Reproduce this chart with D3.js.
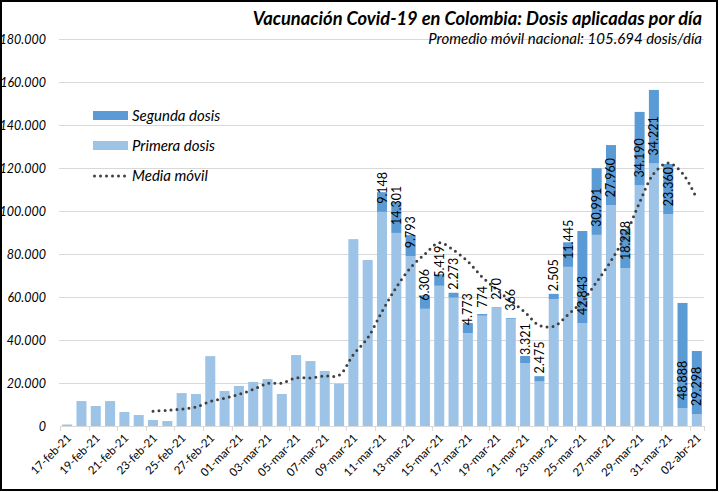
<!DOCTYPE html>
<html>
<head>
<meta charset="utf-8">
<script src="https://cdn.jsdelivr.net/npm/d3@7"></script>
<style>
  body { margin: 0; background: #fff; }
  svg { display: block; font-family: Lato, "Open Sans", sans-serif; }
</style>
</head>
<body>
<div id="chart"></div>
<script>
const fechas = [
  '17-feb-21', '18-feb-21', '19-feb-21', '20-feb-21', '21-feb-21', '22-feb-21', '23-feb-21',
  '24-feb-21', '25-feb-21', '26-feb-21', '27-feb-21', '28-feb-21',
  '01-mar-21', '02-mar-21', '03-mar-21', '04-mar-21', '05-mar-21', '06-mar-21', '07-mar-21',
  '08-mar-21', '09-mar-21', '10-mar-21', '11-mar-21', '12-mar-21', '13-mar-21', '14-mar-21',
  '15-mar-21', '16-mar-21', '17-mar-21', '18-mar-21', '19-mar-21', '20-mar-21', '21-mar-21',
  '22-mar-21', '23-mar-21', '24-mar-21', '25-mar-21', '26-mar-21', '27-mar-21', '28-mar-21',
  '29-mar-21', '30-mar-21', '31-mar-21', '01-abr-21', '02-abr-21'
]

const primeraDosis = [
  700, 11600, 9300, 11600, 6500, 5100, 2800, 2300, 15300, 14900, 32500, 16300,
  18600, 20500, 21800, 14900, 33000, 30200, 25600, 19700, 86900, 77200, 99600, 89800,
  79000, 54500, 65200, 59700, 43150, 51300, 55000, 49850, 29250, 20700, 58950, 74000,
  47850, 88900, 102700, 73450, 111900, 122100, 98500, 8350, 5580
]

const segundaDosis = [
  0, 0, 0, 0, 0, 0, 0, 0, 0, 0, 0, 0,
  0, 0, 0, 0, 0, 0, 0, 0, 0, 0, 9148, 14301,
  9793, 6306, 5419, 2273, 4773, 774, 270, 366, 3321, 2475, 2505, 11445,
  42843, 30991, 27960, 18228, 34190, 34221, 23360, 48888, 29298
]

const mediaMovil = [
  null, null, null, null, null, null, 6900, 7300, 7900, 8800, 11400, 12900,
  14700, 17000, 19800, 20000, 22400, 22300, 23300, 23600, 33200, 41000, 53200, 64500,
  73600, 80000, 85200, 81800, 76500, 69300, 63500, 58200, 52800, 46800, 46400, 51800,
  58000, 67000, 76800, 88500, 104000, 117500, 122300, 117500, 105694
]

const yTicks = [0, 20000, 40000, 60000, 80000, 100000, 120000, 140000, 160000, 180000]

const titulo = 'Vacunación Covid-19 en Colombia: Dosis aplicadas por día'
const subtitulo = 'Promedio móvil nacional: 105.694 dosis/día'

const colorPrimera = '#9dc3e6'
const colorSegunda = '#5b9bd5'

const width = 719
const height = 492
const plot = { left: 60, right: 704, top: 39, bottom: 426 }

const locale = d3.formatLocale({ decimal: ',', thousands: '.', grouping: [3], currency: ['$', ''] })
const fmt = locale.format(',d')

const dataset = fechas.map((f, i) => ({
  fecha: f,
  primera: primeraDosis[i],
  segunda: segundaDosis[i],
  media: mediaMovil[i]
}))

const svg = d3.select('#chart')
  .append('svg')
  .attr('width', width)
  .attr('height', height)

svg.append('rect')
  .attr('width', width)
  .attr('height', height)
  .attr('fill', '#fff')

const xScale = d3.scaleBand()
  .domain(fechas)
  .range([plot.left, plot.right])
  .paddingInner(0.3)
  .paddingOuter(0.15)

const yScale = d3.scaleLinear()
  .domain([0, 180000])
  .range([plot.bottom, plot.top])

const cx = d => xScale(d.fecha) + xScale.bandwidth() / 2

// gridlines
svg.append('g')
  .selectAll('line')
  .data(yTicks.filter(t => t > 0))
  .join('line')
  .attr('x1', plot.left - 1)
  .attr('x2', plot.right)
  .attr('y1', d => Math.round(yScale(d)) + 0.5)
  .attr('y2', d => Math.round(yScale(d)) + 0.5)
  .attr('stroke', '#d9d9d9')

// y axis labels
const yAxis = d3.axisLeft(yScale)
  .tickValues(yTicks)
  .tickSize(0)
  .tickPadding(14)
  .tickFormat(fmt)

const yAxisGroup = svg.append('g')
  .attr('transform', `translate(${plot.left}, 0)`)
  .call(yAxis)
yAxisGroup.select('.domain').remove()
yAxisGroup.selectAll('text')
  .attr('font-family', 'Lato, sans-serif')
  .attr('font-size', 12.5)
  .attr('font-style', 'italic')
  .attr('fill', '#000')

// stacked bars
const bars = svg.append('g')
bars.selectAll('rect.primera')
  .data(dataset)
  .join('rect')
  .attr('class', 'primera')
  .attr('x', d => xScale(d.fecha))
  .attr('width', xScale.bandwidth())
  .attr('y', d => yScale(d.primera))
  .attr('height', d => yScale(0) - yScale(d.primera))
  .attr('fill', colorPrimera)

bars.selectAll('rect.segunda')
  .data(dataset.filter(d => d.segunda > 0))
  .join('rect')
  .attr('class', 'segunda')
  .attr('x', d => xScale(d.fecha))
  .attr('width', xScale.bandwidth())
  .attr('y', d => yScale(d.primera + d.segunda))
  .attr('height', d => yScale(d.primera) - yScale(d.primera + d.segunda))
  .attr('fill', colorSegunda)

// x axis
svg.append('line')
  .attr('x1', plot.left)
  .attr('x2', plot.right)
  .attr('y1', plot.bottom + 0.5)
  .attr('y2', plot.bottom + 0.5)
  .attr('stroke', '#d9d9d9')

const labelFechas = fechas.filter((f, i) => i % 2 === 0)
const borde = f => xScale(f) + xScale.bandwidth() / 2 - xScale.step() / 2

svg.append('g')
  .selectAll('line')
  .data(labelFechas.concat(['fin']))
  .join('line')
  .attr('x1', f => Math.round(f === 'fin' ? plot.right : borde(f)) + 0.5)
  .attr('x2', f => Math.round(f === 'fin' ? plot.right : borde(f)) + 0.5)
  .attr('y1', plot.bottom)
  .attr('y2', plot.bottom + 5)
  .attr('stroke', '#d9d9d9')

const xAxis = d3.axisBottom(xScale)
  .tickValues(labelFechas)
  .tickSize(0)
  .tickPadding(0)

const xAxisGroup = svg.append('g')
  .attr('transform', `translate(0, ${plot.bottom})`)
  .call(xAxis)
xAxisGroup.select('.domain').remove()
xAxisGroup.selectAll('text')
  .attr('font-family', 'Lato, sans-serif')
  .attr('font-size', 11.5)
  .attr('fill', '#000')
  .attr('text-anchor', 'end')
  .attr('dy', '0.35em')
  .attr('transform', 'translate(2, 10) rotate(-45)')

// moving average
const line = d3.line()
  .defined(d => d.media != null)
  .x(cx)
  .y(d => yScale(d.media))
  .curve(d3.curveCatmullRom.alpha(0.5))

svg.append('path')
  .datum(dataset)
  .attr('d', line)
  .attr('fill', 'none')
  .attr('stroke', '#404040')
  .attr('stroke-width', 3)
  .attr('stroke-linecap', 'round')
  .attr('stroke-dasharray', '0 6')

// segunda dosis labels (inside base)
svg.append('g')
  .selectAll('text')
  .data(dataset.filter(d => d.segunda > 0))
  .join('text')
  .attr('transform', d => `translate(${cx(d)}, ${yScale(d.primera) - 8}) rotate(-90)`)
  .attr('dy', '0.36em')
  .attr('font-family', 'Lato, sans-serif')
  .attr('font-size', 12.5)
  .attr('fill', '#000')
  .text(d => fmt(d.segunda))

// legend
const legend = svg.append('g')
  .attr('transform', 'translate(93, 0)')

legend.append('rect')
  .attr('x', 0).attr('y', 111).attr('width', 35).attr('height', 9)
  .attr('fill', colorSegunda)
legend.append('rect')
  .attr('x', 0).attr('y', 141).attr('width', 35).attr('height', 9)
  .attr('fill', colorPrimera)
legend.append('line')
  .attr('x1', 1.5).attr('x2', 35).attr('y1', 176).attr('y2', 176)
  .attr('stroke', '#404040')
  .attr('stroke-width', 3)
  .attr('stroke-linecap', 'round')
  .attr('stroke-dasharray', '0 6')

legend.selectAll('text')
  .data(['Segunda dosis', 'Primera dosis', 'Media móvil'])
  .join('text')
  .attr('x', 39)
  .attr('y', (d, i) => 121 + i * 30)
  .attr('font-family', 'Lato, sans-serif')
  .attr('font-size', 15)
  .attr('font-style', 'italic')
  .attr('fill', '#000')
  .text(d => d)

// titles
svg.append('text')
  .attr('x', 702)
  .attr('y', 25)
  .attr('text-anchor', 'end')
  .attr('font-family', 'Lato, sans-serif')
  .attr('font-size', 18.3)
  .attr('font-weight', 'bold')
  .attr('font-style', 'italic')
  .attr('fill', '#000')
  .text(titulo)

svg.append('text')
  .attr('x', 702)
  .attr('y', 44)
  .attr('text-anchor', 'end')
  .attr('font-family', 'Lato, sans-serif')
  .attr('font-size', 15)
  .attr('font-style', 'italic')
  .attr('fill', '#000')
  .text(subtitulo)

// frame
svg.append('rect')
  .attr('x', 1)
  .attr('y', 1)
  .attr('width', width - 3)
  .attr('height', height - 3)
  .attr('fill', 'none')
  .attr('stroke', '#000')
  .attr('stroke-width', 2)
</script>
</body>
</html>
